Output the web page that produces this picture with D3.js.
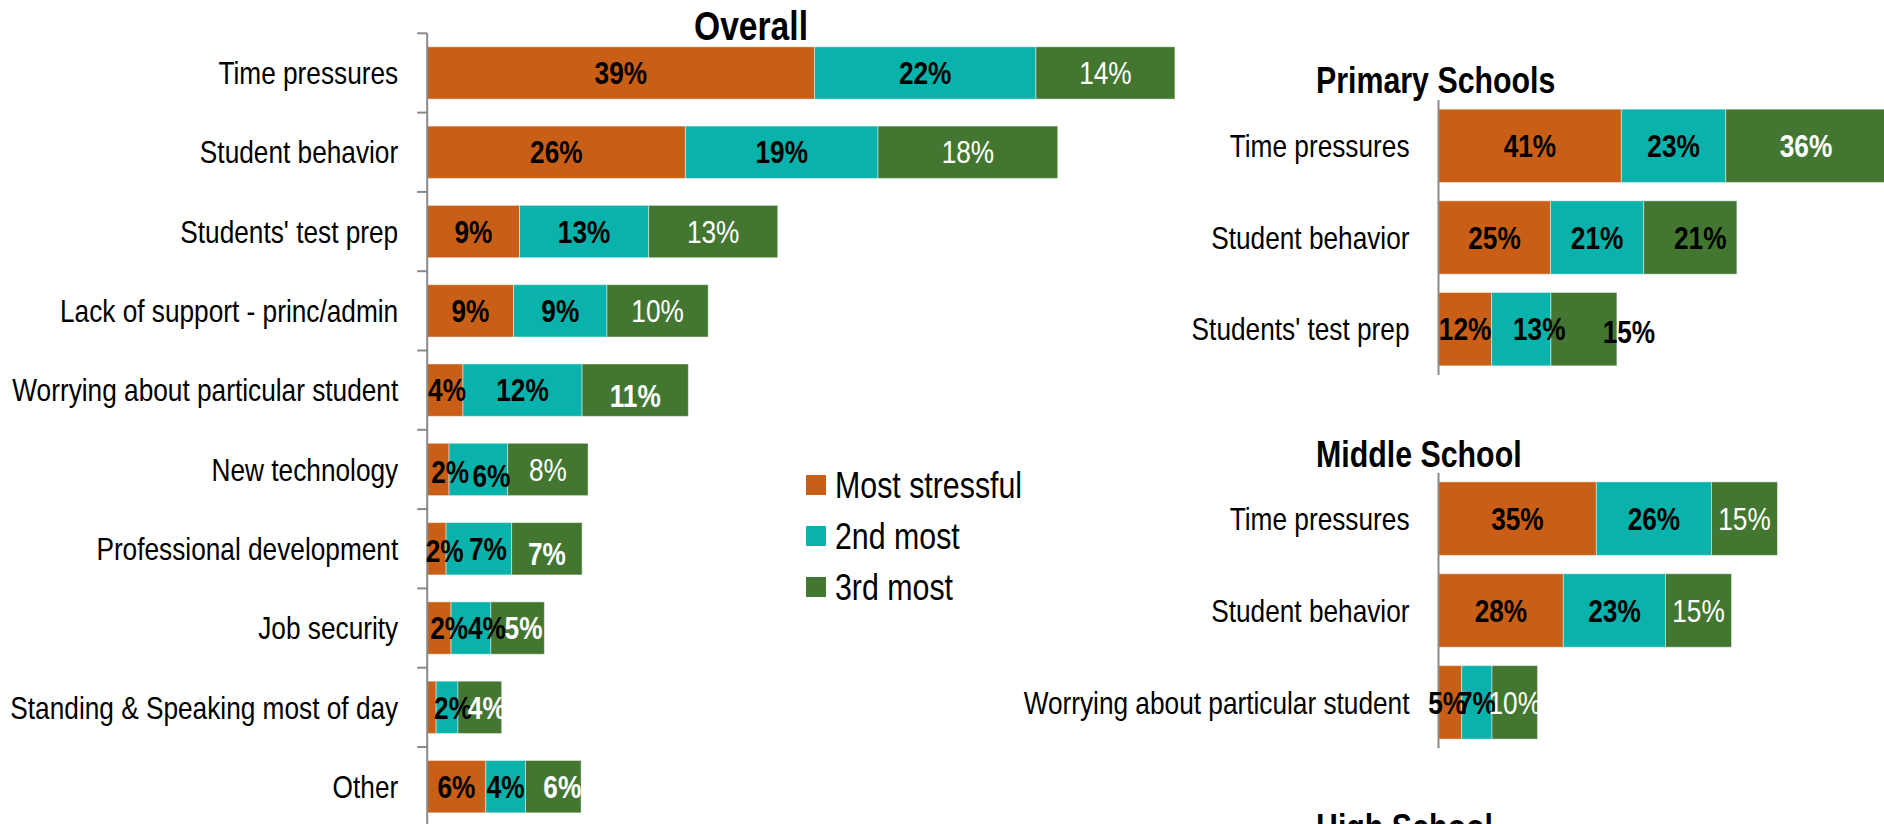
<!DOCTYPE html>
<html><head><meta charset="utf-8">
<script src="https://cdn.jsdelivr.net/npm/d3@7"></script>
<style>html,body{margin:0;padding:0;background:#fff;overflow:hidden}</style>
</head><body>
<svg id="c" width="1884" height="824"></svg>
<script>
// ---------- DATA ----------
const seriesNames = ["Most stressful", "2nd most", "3rd most"];

const overallCategories = ["Time pressures", "Student behavior", "Students' test prep",
  "Lack of support - princ/admin", "Worrying about particular student", "New technology",
  "Professional development", "Job security", "Standing & Speaking most of day", "Other"];
const overallMost   = [39.0, 26.0, 9.3, 8.7, 3.6, 2.2, 1.9, 2.4, 0.9, 5.9];
const overallSecond = [22.3, 19.4, 13.0, 9.4, 12.0, 5.9, 6.6, 4.0, 2.2, 4.0];
const overallThird  = [14.0, 18.1, 13.0, 10.2, 10.7, 8.1, 7.1, 5.4, 4.4, 5.6];

const primaryCategories = ["Time pressures", "Student behavior", "Students' test prep"];
const primaryMost   = [41.0, 25.1, 11.9];
const primarySecond = [23.4, 20.9, 13.3];
const primaryThird  = [36.0, 20.9, 14.8];

const middleCategories = ["Time pressures", "Student behavior", "Worrying about particular student"];
const middleMost   = [35.4, 28.0, 5.2];
const middleSecond = [25.8, 22.9, 6.8];
const middleThird  = [14.8, 14.8, 10.2];

const panelTitles = ["Overall", "Primary Schools", "Middle School", "High School"];

// ---------- STYLE ----------
const colors = ["#C95F17", "#09B2AA", "#437731"];
const axisColor = "#8a8a8a";
const FAMILY = "'Liberation Sans', Arial, sans-serif";
const SX = 0.82; // condensed look (Arial Narrow)

const svg = d3.select("#c");

function txt(g, x, y, str, o) {
  return g.append("text")
    .attr("transform", `translate(${x},${y}) scale(${SX},1)`)
    .attr("text-anchor", o.anchor || "start")
    .attr("font-family", FAMILY)
    .attr("font-size", o.size)
    .attr("font-weight", o.weight || "normal")
    .attr("fill", o.fill || "#000")
    .attr("dy", o.dy == null ? "0.35em" : o.dy)
    .text(str);
}

const fmt = v => Math.round(v) + "%";

function drawPanel(p) {
  const rows = p.cats.map((c, i) => ({ cat: c, s0: p.vals[0][i], s1: p.vals[1][i], s2: p.vals[2][i] }));
  const layers = d3.stack().keys(["s0", "s1", "s2"])(rows);
  const x = d3.scaleLinear().domain([0, 100]).range([p.x0, p.x0 + p.pxPer100]);
  const y = d3.scaleBand().domain(p.cats).range(p.yRange).paddingInner(p.padIn).paddingOuter(p.padOut);
  const g = svg.append("g");

  layers.forEach((layer, si) => {
    g.selectAll(null).data(layer).join("rect")
      .attr("x", d => x(d[0])).attr("y", d => y(d.data.cat))
      .attr("width", d => x(d[1]) - x(d[0])).attr("height", y.bandwidth())
      .attr("fill", colors[si])
      .attr("stroke", "rgba(255,255,255,0.45)").attr("stroke-width", 1);
  });

  g.append("line").attr("x1", x(0)).attr("x2", x(0))
    .attr("y1", p.yRange[0]).attr("y2", p.yRange[1])
    .attr("stroke", axisColor).attr("stroke-width", 2);
  if (p.ticks) {
    const half = y.step() * y.paddingInner() / 2;
    const tpos = p.cats.map(c => y(c) - half);
    g.selectAll(null).data(tpos).join("line")
      .attr("x1", x(0) - 10).attr("x2", x(0)).attr("y1", d => d).attr("y2", d => d)
      .attr("stroke", axisColor).attr("stroke-width", 2);
  }

  p.cats.forEach(c => txt(g, x(0) - 29, y(c) + y.bandwidth() / 2, c, { size: 32, anchor: "end" }));

  layers.forEach((layer, si) => {
    layer.forEach((d, i) => {
      const v = d[1] - d[0];
      if (v < 1) return;
      const st = p.labelStyle(si, i);
      const n = p.nudge[i + "|" + si] || [0, 0];
      txt(g, (x(d[0]) + x(d[1])) / 2 + n[0], y(d.data.cat) + y.bandwidth() / 2 + n[1], fmt(v),
        { size: 32, anchor: "middle", weight: st.weight, fill: st.fill });
    });
  });
}

drawPanel({
  cats: overallCategories, vals: [overallMost, overallSecond, overallThird],
  x0: 427.2, pxPer100: 993, yRange: [33.3, 826.3], padIn: 0.34, padOut: 0.17, ticks: true,
  labelStyle: (si, i) => si < 2 ? { weight: "bold", fill: "#000" }
    : { weight: [4, 6, 7, 8, 9].includes(i) ? "bold" : "normal", fill: "#fff" },
  nudge: { "4|0": [2, 0], "4|2": [0, 6], "5|0": [12, 2], "5|1": [13, 6], "6|0": [8, 2], "6|1": [9, 0],
    "6|2": [0, 5], "7|0": [10, 0], "7|1": [16, 0], "7|2": [6, 0], "8|1": [6, 0], "8|2": [7, 0], "9|2": [9, 0] }
});

drawPanel({
  cats: primaryCategories, vals: [primaryMost, primarySecond, primaryThird],
  x0: 1438.5, pxPer100: 446, yRange: [100, 375], padIn: 0.2, padOut: 0.1, ticks: false,
  labelStyle: (si, i) => ({ weight: "bold", fill: (si === 2 && i === 0) ? "#fff" : "#000" }),
  nudge: { "1|2": [10, 0], "2|1": [18, 0], "2|2": [45, 3] }
});

drawPanel({
  cats: middleCategories, vals: [middleMost, middleSecond, middleThird],
  x0: 1438.5, pxPer100: 446, yRange: [472.7, 748.3], padIn: 0.2, padOut: 0.1, ticks: false,
  labelStyle: (si, i) => si < 2 ? { weight: "bold", fill: "#000" } : { weight: "normal", fill: "#fff" },
  nudge: { "2|0": [-3, 0] }
});

const tg = svg.append("g");
txt(tg, 751, 40, panelTitles[0], { size: 41, weight: "bold", anchor: "middle", dy: 0 });
txt(tg, 1316, 93.3, panelTitles[1], { size: 37, weight: "bold", dy: 0 });
txt(tg, 1316, 466.7, panelTitles[2], { size: 37, weight: "bold", dy: 0 });
txt(tg, 1316, 840, panelTitles[3], { size: 37, weight: "bold", dy: 0 });

const lg = svg.append("g");
const ly = d3.scalePoint().domain(seriesNames).range([485, 587]);
seriesNames.forEach((s, i) => {
  lg.append("rect").attr("x", 806).attr("y", ly(s) - 10).attr("width", 20).attr("height", 20).attr("fill", colors[i]);
  txt(lg, 835, ly(s), s, { size: 37 });
});
</script>
</body></html>
